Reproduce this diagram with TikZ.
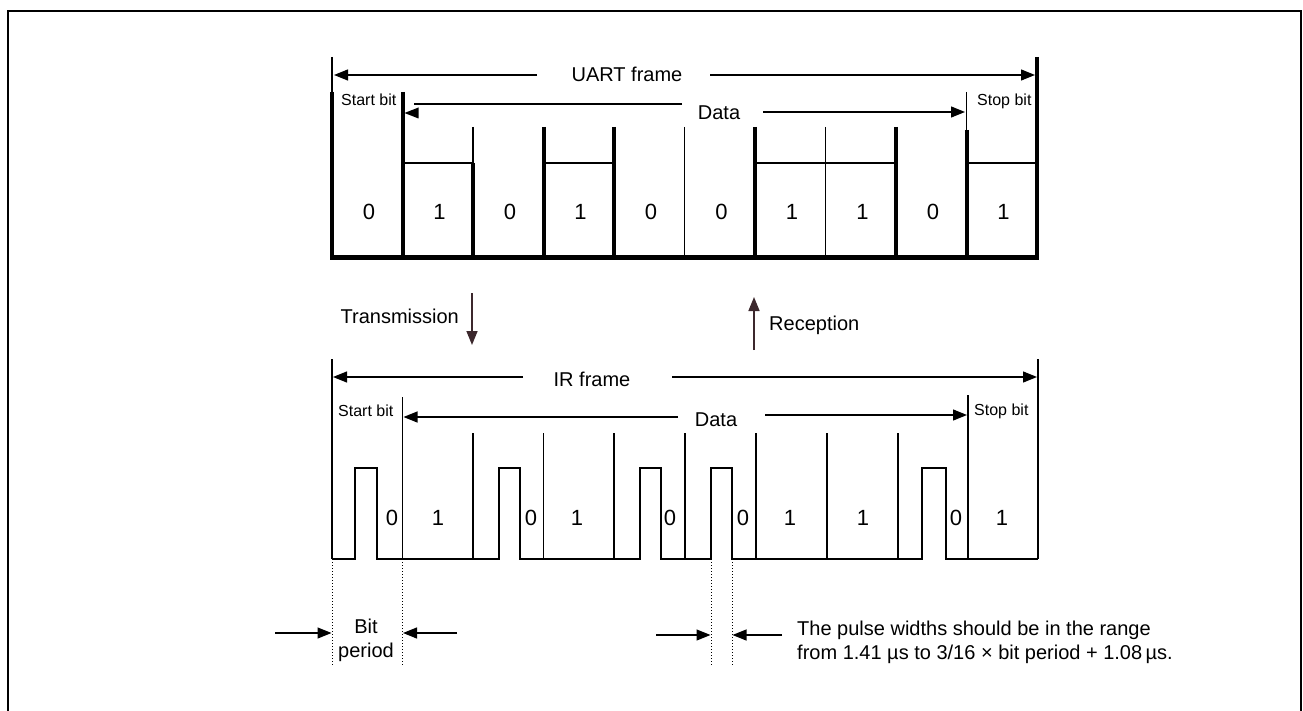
\documentclass[tikz,border=0pt]{standalone}
\usepackage{fontspec}
\setmainfont{Liberation Sans}
\usetikzlibrary{arrows.meta}
\begin{document}
\begin{tikzpicture}[x=1pt,y=-1pt,
  thinln/.style={line width=1.2pt},
  thickln/.style={line width=4pt},
  highln/.style={line width=2.8pt},
  sig/.style={line width=2.5pt, line join=miter},
  arr/.style={line width=1.2pt,-{Triangle[length=14pt,width=11pt]}},
  tarr/.style={line width=1.6pt,draw={rgb,255:red,60;green,40;blue,45},-{Triangle[length=14pt,width=11pt]}},
  dotln/.style={line width=1pt, dotted},
  lbl/.style={font=\fontsize{20}{24}\selectfont, inner sep=0pt},
  smalllbl/.style={font=\fontsize{16}{19}\selectfont, inner sep=0pt},
  digit/.style={font=\fontsize{22}{26}\selectfont, inner sep=0pt, anchor=base},
]
\useasboundingbox (0,0) rectangle (1303,711);
% outer frame
\draw[line width=1.8pt] (8,711) -- (8,11) -- (1301,11) -- (1301,711);

% ================= UART =================
% frame lines
\draw[thinln] (332,57) -- (332,92);
\draw[thickln] (332,92) -- (332,258);
\draw[line width=3.5pt] (1037,57) -- (1037,258);
% bit boundaries
\draw[thickln] (402.5,92) -- (402.5,258);
\draw[thinln] (473,127) -- (473,163);
\draw[thickln] (473,163) -- (473,258);
\draw[thickln] (543.5,127) -- (543.5,258);
\draw[thickln] (614,127) -- (614,258);
\draw[thinln] (684.5,127) -- (684.5,258);
\draw[thickln] (755,127) -- (755,258);
\draw[thinln] (825.5,127) -- (825.5,258);
\draw[thickln] (896,127) -- (896,258);
\draw[thinln] (966.5,92) -- (966.5,130);
\draw[thickln] (966.5,130) -- (966.5,258);
% high levels
\draw[highln] (402.5,163) -- (473,163);
\draw[highln] (543.5,163) -- (614,163);
\draw[highln] (755,163) -- (896,163);
\draw[highln] (966.5,163) -- (1037,163);
% low level
\draw[line width=5pt] (330,258) -- (1039,258);

% labels
\node[lbl,anchor=base] (uframe) at (627,82) {UART frame};
\coordinate (ufl) at (537,75);
\coordinate (ufle) at (334,75);
\coordinate (ufr) at (710,75);
\coordinate (ufre) at (1035,75);
\draw[arr] (ufl) -- (ufle);
\draw[arr] (ufr) -- (ufre);

\node[smalllbl,anchor=base west] (ustart) at (341,106) {Start bit};
\node[smalllbl,anchor=base west] (ustop) at (977,106) {Stop bit};

\node[lbl,anchor=base] (udata) at (719,120) {Data};
\coordinate (udl) at (682,104);
\coordinate (udle) at (414,104);
\draw[thinln] (udl) -- (udle);
\fill (404.5,113) -- ++(14,-5.5) -- ++(0,11) -- cycle;
\coordinate (udr) at (763,112);
\coordinate (udre) at (965,112);
\draw[arr] (udr) -- (udre);

% digits
\foreach \d [count=\i from 0] in {0,1,0,1,0,0,1,1,0,1}{
  \node[digit] (u\i) at ({369+70.5*\i},220) {\d};
}

% ================= Transmission / Reception =================
\node[lbl,anchor=base east] (tx) at (459,323) {Transmission};
\coordinate (txs) at (472,293);
\coordinate (txe) at (472,345);
\draw[tarr] (txs) -- (txe);
\node[lbl,anchor=base west] (rx) at (769,330) {Reception};
\coordinate (rxs) at (754,350);
\coordinate (rxe) at (754,297);
\draw[tarr] (rxs) -- (rxe);

% ================= IR =================
\draw[thinln] (332,359) -- (332,559);
\draw[thinln] (1038,359) -- (1038,559);
\draw[thinln] (402.5,397) -- (402.5,559);
\draw[thinln] (968,395) -- (968,559);
\foreach \x in {473,543.5,614,685,756,827,898}{
  \draw[thinln] (\x,433) -- (\x,559);
}
% signal
\draw[sig] (332,559) -- (355,559) -- (355,468) -- (377,468) -- (377,559)
  -- (499,559) -- (499,468) -- (520,468) -- (520,559)
  -- (640,559) -- (640,468) -- (661,468) -- (661,559)
  -- (711,559) -- (711,468) -- (732,468) -- (732,559)
  -- (922,559) -- (922,468) -- (946,468) -- (946,559) -- (1038,559);

\node[lbl,anchor=base] (irframe) at (592,386) {IR frame};
\coordinate (ifl) at (523,377);
\coordinate (ifle) at (333,377);
\coordinate (ifr) at (672,377);
\coordinate (ifre) at (1037,377);
\draw[arr] (ifl) -- (ifle);
\draw[arr] (ifr) -- (ifre);

\node[smalllbl,anchor=base west] (istart) at (338,416) {Start bit};
\node[smalllbl,anchor=base west] (istop) at (974,415) {Stop bit};

\node[lbl,anchor=base] (idata) at (716,426) {Data};
\coordinate (idl) at (678,417);
\coordinate (idle) at (403.5,417);
\draw[arr] (idl) -- (idle);
\coordinate (idr) at (765,415);
\coordinate (idre) at (967,415);
\draw[arr] (idr) -- (idre);

% IR digits
\node[digit] (i0) at (392,525) {0};
\node[digit] (i1) at (438,525) {1};
\node[digit] (i2) at (531,525) {0};
\node[digit] (i3) at (577,525) {1};
\node[digit] (i4) at (670,525) {0};
\node[digit] (i5) at (743,525) {0};
\node[digit] (i6) at (790,525) {1};
\node[digit] (i7) at (863,525) {1};
\node[digit] (i8) at (956,525) {0};
\node[digit] (i9) at (1002,525) {1};

% dotted extension lines
\foreach \x in {332,402.5,711,732}{
  \draw[dotln] (\x,559) -- (\x,665);
}

% bit period
\node[lbl,anchor=base] (bit) at (366,633) {Bit};
\node[lbl,anchor=base] (period) at (366,657) {period};
\coordinate (bpl) at (275,633);
\coordinate (bple) at (331.5,633);
\coordinate (bpr) at (457,633);
\coordinate (bpre) at (403,633);
\draw[arr] (bpl) -- (bple);
\draw[arr] (bpr) -- (bpre);

% pulse width
\coordinate (pwl) at (656,635);
\coordinate (pwle) at (710.5,635);
\coordinate (pwr) at (782,635);
\coordinate (pwre) at (732.5,635);
\draw[arr] (pwl) -- (pwle);
\draw[arr] (pwr) -- (pwre);
\node[lbl,anchor=base west] (note1) at (797,635) {The pulse widths should be in the range};
\node[lbl,anchor=base west] (note2) at (797,659) {from 1.41 µs to 3/16 × bit period + 1.08\,µs.};
\end{tikzpicture}
\end{document}
